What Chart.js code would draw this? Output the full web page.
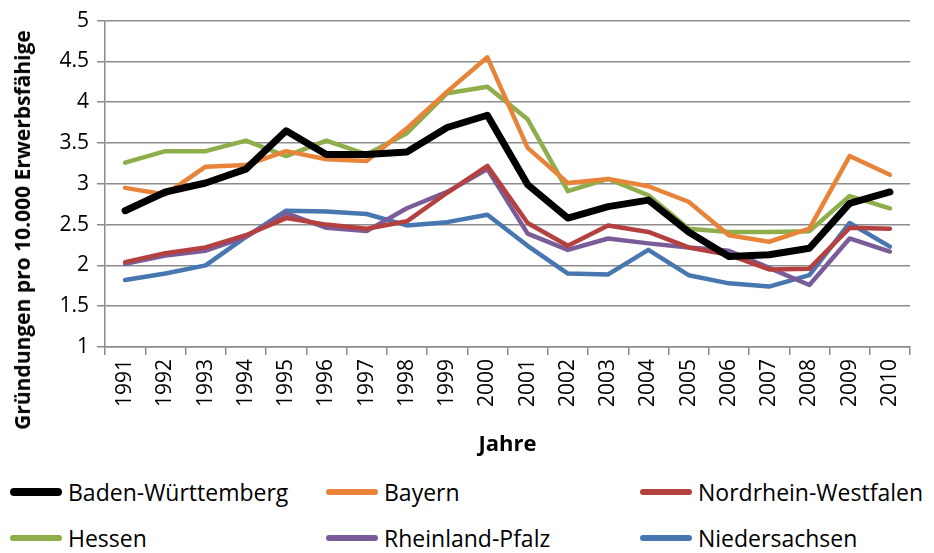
<!DOCTYPE html>
<html>
<head>
<meta charset="utf-8">
<script src="https://cdn.jsdelivr.net/npm/chart.js@4/dist/chart.umd.min.js"></script>
<style>
  body { margin: 0; background: #fff; width: 934px; height: 553px; overflow: hidden; position: relative;
         font-family: "Liberation Sans Narrow", "Open Sans", sans-serif; color: #000; }
  #wrap { position: absolute; left: 0; top: 0; width: 934px; height: 462px; }
  #ytitle { position: absolute; left: 22px; top: 230px; transform: translate(-50%, -50%) rotate(-90deg);
            white-space: nowrap; font-weight: bold; font-size: 21px; }
  .item { position: absolute; display: flex; align-items: center; font-size: 23px; white-space: nowrap; }
  .swatch { width: 52px; border-radius: 4px; margin-right: 6px; }
</style>
</head>
<body>
<div id="wrap"><canvas id="chart"></canvas></div>
<div id="ytitle">Gründungen pro 10.000 Erwerbsfähige</div>
<div id="legend"></div>
<script>
// Categories and series
const years = ['1991','1992','1993','1994','1995','1996','1997','1998','1999','2000',
               '2001','2002','2003','2004','2005','2006','2007','2008','2009','2010'];
const badenWuerttemberg = [2.67,2.90,3.01,3.18,3.65,3.36,3.36,3.39,3.69,3.84,2.99,2.58,2.72,2.80,2.41,2.11,2.13,2.21,2.76,2.90];
const bayern            = [2.95,2.87,3.21,3.23,3.40,3.30,3.28,3.68,4.13,4.55,3.44,3.01,3.06,2.97,2.78,2.37,2.29,2.45,3.34,3.11];
const nrw               = [2.04,2.15,2.22,2.37,2.58,2.50,2.45,2.54,2.89,3.22,2.52,2.24,2.49,2.41,2.22,2.13,1.95,1.96,2.46,2.45];
const hessen            = [3.26,3.40,3.40,3.53,3.34,3.53,3.36,3.62,4.11,4.19,3.79,2.91,3.06,2.86,2.45,2.41,2.41,2.42,2.85,2.70];
const rheinlandPfalz    = [2.02,2.12,2.18,2.35,2.64,2.46,2.42,2.70,2.90,3.18,2.39,2.19,2.33,2.27,2.22,2.18,1.97,1.76,2.33,2.17];
const niedersachsen     = [1.82,1.90,2.00,2.35,2.67,2.66,2.63,2.49,2.53,2.62,2.24,1.90,1.89,2.19,1.88,1.78,1.74,1.88,2.52,2.23];

const seriesNames  = ['Baden-Württemberg','Bayern','Nordrhein-Westfalen','Hessen','Rheinland-Pfalz','Niedersachsen'];
const seriesData   = [badenWuerttemberg, bayern, nrw, hessen, rheinlandPfalz, niedersachsen];
const seriesColors = ['#000000','#E8843A','#B4413F','#8DAE4B','#7A5C98','#4677B1'];
const seriesWidths = [7, 4.5, 4.5, 4.5, 4.5, 4.5];

const yMin = 1, yMax = 5, yStep = 0.5;
const font = '"Liberation Sans Narrow", "Open Sans", sans-serif';
const gridColor = '#8c8c8c';

const datasets = seriesNames.map((name, i) => ({
    label: name,
    data: seriesData[i],
    borderColor: seriesColors[i],
    backgroundColor: seriesColors[i],
    borderWidth: seriesWidths[i],
    pointRadius: 0,
    tension: 0,
    borderJoinStyle: 'round',
    borderCapStyle: 'round',
    fill: false
}));

new Chart(document.getElementById('chart'), {
    type: 'line',
    data: { labels: years, datasets: datasets },
    options: {
        responsive: true,
        maintainAspectRatio: false,
        animation: false,
        layout: { padding: { top: 17, right: 24, left: 0, bottom: 0 } },
        plugins: { legend: { display: false }, tooltip: { enabled: false } },
        scales: {
            x: {
                offset: true,
                grid: { offset: true, drawOnChartArea: false, color: gridColor, lineWidth: 1.5, tickLength: 8 },
                border: { color: gridColor, width: 1.5 },
                ticks: { minRotation: 90, maxRotation: 90, padding: 4, color: '#000', font: { family: font, size: 21 } },
                title: { display: true, text: 'Jahre', color: '#000', padding: { top: 0, bottom: 4 },
                         font: { family: font, size: 22, weight: 'bold' } },
                afterFit: s => { s.height = 115; }
            },
            y: {
                min: yMin, max: yMax,
                ticks: { stepSize: yStep, padding: 8, color: '#000', font: { family: font, size: 21 },
                         callback: v => String(v) },
                grid: { color: gridColor, lineWidth: 1.5, tickLength: 8 },
                border: { color: gridColor, width: 1.5 },
                afterFit: s => { s.width = 105; }
            }
        }
    }
});

// Legend laid out as 3 columns x 2 rows like the original
const legend = document.getElementById('legend');
const colX = [10, 326, 640];
const rowY = [492, 538];
seriesNames.forEach((name, i) => {
    const item = document.createElement('div');
    item.className = 'item';
    item.style.left = colX[i % 3] + 'px';
    item.style.top = (rowY[Math.floor(i / 3)] - 16) + 'px';
    item.style.height = '32px';
    const sw = document.createElement('span');
    sw.className = 'swatch';
    sw.style.height = (seriesWidths[i] + 1) + 'px';
    sw.style.background = seriesColors[i];
    item.appendChild(sw);
    item.appendChild(document.createTextNode(name));
    legend.appendChild(item);
});
</script>
</body>
</html>
